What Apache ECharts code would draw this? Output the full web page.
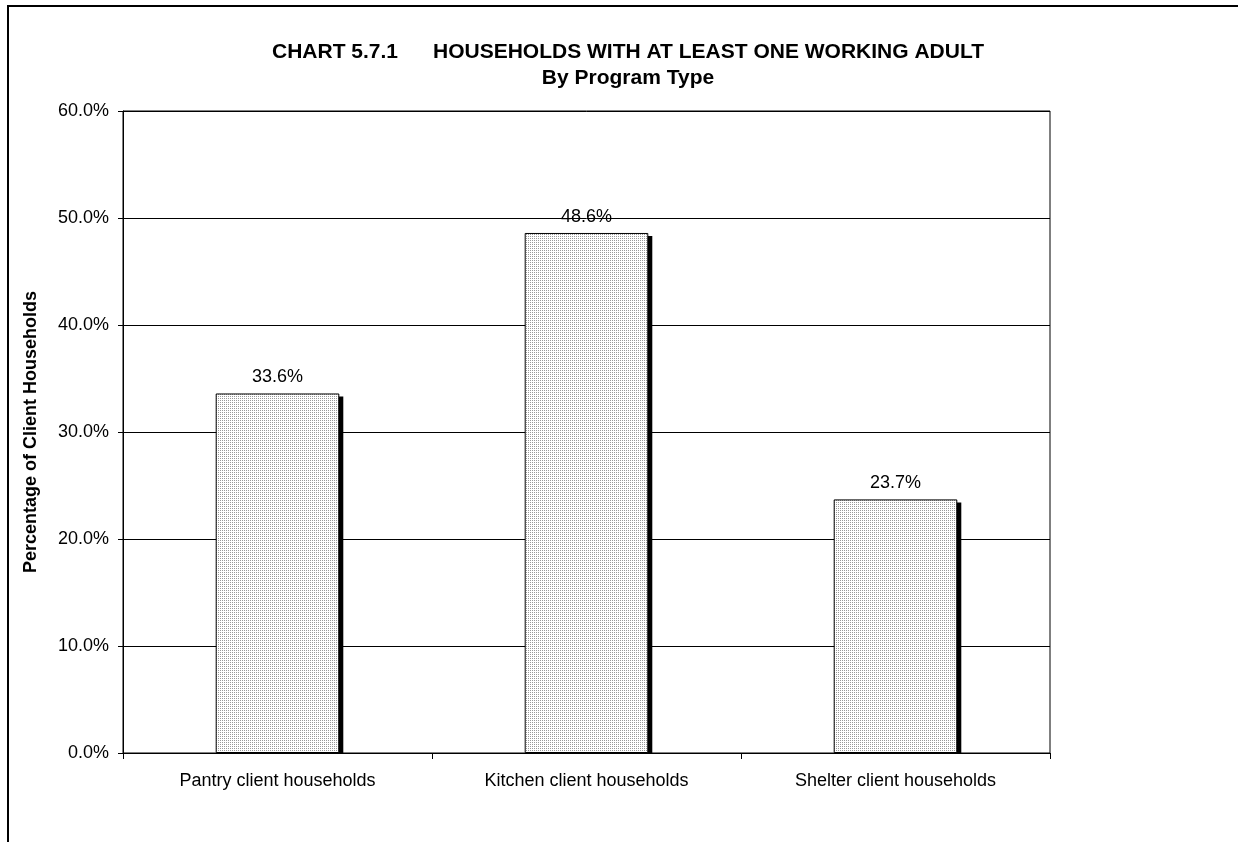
<!DOCTYPE html>
<html>
<head>
<meta charset="utf-8">
<script src="https://cdn.jsdelivr.net/npm/echarts@6/dist/echarts.min.js"></script>
<style>
html,body{margin:0;padding:0;background:#fff;}
#chart{width:1238px;height:842px;}
</style>
</head>
<body>
<div id="chart"></div>
<script>
var categories = ['Pantry client households', 'Kitchen client households', 'Shelter client households'];
var values = [33.6, 48.6, 23.7];
var yTicks = [0, 10, 20, 30, 40, 50, 60];
var titleLine1 = 'CHART 5.7.1      HOUSEHOLDS WITH AT LEAST ONE WORKING ADULT';
var titleLine2 = 'By Program Type';
var yAxisName = 'Percentage of Client Households';

var FONT = '"Liberation Sans", Arial, sans-serif';

// dotted fill pattern
var pat = document.createElement('canvas');
pat.width = 2; pat.height = 2;
var pctx = pat.getContext('2d');
pctx.fillStyle = '#ffffff';
pctx.fillRect(0, 0, 2, 2);
pctx.fillStyle = '#999999';
pctx.fillRect(0, 0, 1, 1);

var chart = echarts.init(document.getElementById('chart'), null, {renderer: 'canvas'});
chart.setOption({
  backgroundColor: '#fff',
  animation: false,
  title: {
    text: titleLine1 + '\n' + titleLine2,
    left: 623,
    top: 34,
    textAlign: 'center',
    textStyle: {fontFamily: FONT, fontSize: 21, fontWeight: 'bold', color: '#000', lineHeight: 26}
  },
  graphic: [{
    type: 'rect',
    shape: {x: 8, y: 6, width: 1400, height: 1000},
    style: {fill: 'none', stroke: '#000', lineWidth: 2},
    silent: true,
    z: 100
  }],
  grid: {left: 123, top: 111, right: 188, bottom: 89, show: true, borderColor: '#000', borderWidth: 1, backgroundColor: 'transparent'},
  xAxis: {
    type: 'category',
    data: categories,
    axisLine: {lineStyle: {color: '#000', width: 1}},
    axisTick: {show: true, length: 6, lineStyle: {color: '#000'}},
    axisLabel: {fontFamily: FONT, fontSize: 18, color: '#000', margin: 19},
    z: 5
  },
  yAxis: {
    type: 'value',
    min: yTicks[0],
    max: yTicks[yTicks.length - 1],
    interval: 10,
    name: yAxisName,
    nameLocation: 'middle',
    nameGap: 83,
    nameTextStyle: {fontFamily: FONT, fontSize: 18, fontWeight: 'bold', color: '#000'},
    axisLine: {show: true, lineStyle: {color: '#000', width: 1}},
    axisTick: {show: true, length: 5, lineStyle: {color: '#000'}},
    axisLabel: {fontFamily: FONT, fontSize: 18, color: '#000', margin: 14,
      formatter: function (v) { return v.toFixed(1) + '%'; }},
    splitLine: {show: true, lineStyle: {color: '#000', width: 1}}
  },
  series: [{
    type: 'custom',
    z: 1,
    silent: true,
    data: values,
    renderItem: function (params, api) {
      var top = api.coord([api.value(0), api.value(1)]);
      var base = api.coord([api.value(0), 0]);
      var band = api.size([1, 0])[0];
      var w = band * 0.4;
      var x = top[0] - w / 2;
      return {
        type: 'rect',
        shape: {x: x + 4, y: top[1] + 3, width: w, height: base[1] - top[1] - 3},
        style: {fill: '#000'}
      };
    },
    encode: {x: 0, y: 1}
  }, {
    type: 'bar',
    z: 2,
    data: values,
    barWidth: '40%',
    itemStyle: {color: {image: pat, repeat: 'repeat'}, borderColor: '#000', borderWidth: 1},
    label: {show: true, position: 'top', distance: 7, fontFamily: FONT, fontSize: 18, color: '#000',
      formatter: function (p) { return p.value.toFixed(1) + '%'; }}
  }]
});
</script>
</body>
</html>
